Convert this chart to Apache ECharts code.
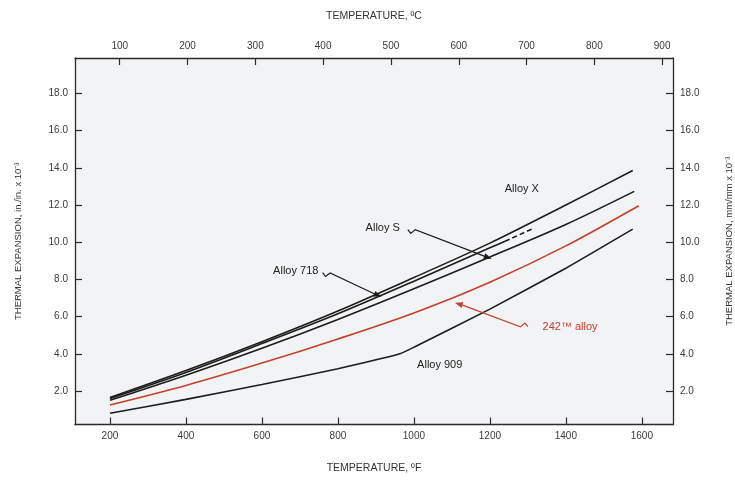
<!DOCTYPE html>
<html><head><meta charset="utf-8">
<script src="https://cdn.jsdelivr.net/npm/echarts@6/dist/echarts.min.js"></script>
<style>html,body{margin:0;padding:0;background:#fff}#c{width:735px;height:481px}</style>
</head><body><div id="c"></div>
<script>
// ---- data ----
const ticksF = [200, 400, 600, 800, 1000, 1200, 1400, 1600];
const ticksC = [100, 200, 300, 400, 500, 600, 700, 800, 900];
const ticksY = [2, 4, 6, 8, 10, 12, 14, 16, 18];

const alloyX_T = [200, 400, 600, 800, 1000, 1200, 1400, 1576];
const alloyX_V = [1.65, 3.1, 4.65, 6.3, 8.1, 9.95, 12.0, 13.85];

const alloyS_T = [200, 400, 600, 800, 1000, 1200, 1240];
const alloyS_V = [1.6, 3.0, 4.55, 6.15, 7.9, 9.7, 10.05];
const alloySdash_T = [1240, 1310];
const alloySdash_V = [10.05, 10.7];

const alloy718_T = [200, 400, 600, 800, 1000, 1200, 1400, 1580];
const alloy718_V = [1.5, 2.85, 4.3, 5.85, 7.5, 9.2, 10.95, 12.73];

const alloy242_T = [200, 400, 600, 800, 1000, 1200, 1400, 1592];
const alloy242_V = [1.25, 2.3, 3.5, 4.8, 6.2, 7.85, 9.8, 11.96];

const alloy909_T = [200, 400, 600, 800, 963, 1000, 1200, 1400, 1576];
const alloy909_V = [0.8, 1.55, 2.35, 3.2, 4.0, 4.35, 6.4, 8.6, 10.7];

const labelNames = ['Alloy X', 'Alloy S', 'Alloy 718', '242\u2122 alloy', 'Alloy 909'];
const labelAt = [[1284, 12.87], [918, 10.78], [689, 8.47], [1411, 5.46], [1068, 3.42]];
// leaders: [start, tip] in data units
const leaderS = [[984, 10.67], [1205, 9.11]];
const leader718 = [[760, 8.36], [915, 7.07]];
const leader242 = [[1300, 5.46], [1108, 6.75]];

// ---- chart ----
const pairs = (xs, ys) => xs.map((x, i) => [x, ys[i]]);
const BLACK = '#1c1c1c', RED = '#c4402f', FONT = 'Liberation Sans';
const chart = echarts.init(document.getElementById('c'), null, {renderer: 'canvas'});

const axLine = {show: true, lineStyle: {color: '#2a2a2a', width: 1.3}};
const tick = (vals) => ({show: true, inside: true, length: 7, customValues: vals, lineStyle: {color: '#2a2a2a', width: 1.2}});
const lab = (vals, fmt) => ({show: true, customValues: vals, formatter: fmt, color: '#3a3a3a', fontSize: 10, fontFamily: FONT, margin: 7});
const nameStyle = {color: '#333', fontSize: 10.5, fontFamily: FONT};

const line = (name, data, color, dashed) => ({
  name, type: 'line', data, showSymbol: false, smooth: 0.3, xAxisIndex: 0, yAxisIndex: 0,
  lineStyle: {color, width: 1.6, type: dashed ? [5, 3] : 'solid'}, animation: false, z: 3
});

chart.setOption({
  animation: false,
  backgroundColor: '#ffffff',
  grid: {left: 75, right: 62, top: 58, bottom: 56.5, show: true, backgroundColor: '#f2f3f5', borderWidth: 0,
         containLabel: false, outerBoundsMode: 'none'},
  xAxis: [
    {type: 'value', position: 'bottom', min: 108, max: 1682, axisLine: axLine, axisTick: tick(ticksF),
     axisLabel: lab(ticksF, v => String(v)), splitLine: {show: false},
     name: 'TEMPERATURE, \u00BAF', nameLocation: 'middle', nameGap: 38, nameTextStyle: nameStyle},
    {type: 'value', position: 'top', min: 34, max: 916, axisLine: axLine, axisTick: tick(ticksC),
     axisLabel: lab(ticksC, v => String(v)), splitLine: {show: false},
     name: 'TEMPERATURE, \u00BAC', nameLocation: 'middle', nameGap: 36, nameTextStyle: nameStyle}
  ],
  yAxis: [
    {type: 'value', position: 'left', min: 0.2, max: 19.9, axisLine: axLine, axisTick: tick(ticksY),
     axisLabel: lab(ticksY, v => v.toFixed(1)), splitLine: {show: false},
     name: 'THERMAL EXPANSION, in./in. x 10\u207B\u00B3', nameLocation: 'middle', nameGap: 52, nameTextStyle: {color: '#333', fontSize: 9.5, fontFamily: FONT}},
    {type: 'value', position: 'right', min: 0.2, max: 19.9, axisLine: axLine, axisTick: tick(ticksY),
     axisLabel: lab(ticksY, v => v.toFixed(1)), splitLine: {show: false},
     name: 'THERMAL EXPANSION, mm/mm x 10\u207B\u00B3', nameLocation: 'middle', nameGap: 51, nameRotate: 90, nameTextStyle: {color: '#333', fontSize: 9.5, fontFamily: FONT}}
  ],
  series: [
    line('Alloy X', pairs(alloyX_T, alloyX_V), BLACK),
    line('Alloy S', pairs(alloyS_T, alloyS_V), BLACK),
    line('Alloy S (extrap.)', pairs(alloySdash_T, alloySdash_V), BLACK, true),
    line('Alloy 718', pairs(alloy718_T, alloy718_V), BLACK),
    line('242 alloy', pairs(alloy242_T, alloy242_V), RED),
    Object.assign(line('Alloy 909', pairs(alloy909_T, alloy909_V), BLACK), {smooth: 0.15})
  ]
});

// ---- annotations ----
const px = (p) => chart.convertToPixel({xAxisIndex: 0, yAxisIndex: 0}, p);
const els = [];
labelNames.forEach((t, i) => {
  const p = px(labelAt[i]);
  els.push({type: 'text', x: p[0], y: p[1], z: 10,
    style: {text: t, fill: i === 3 ? RED : '#222', font: '11px ' + FONT, textAlign: 'center', textVerticalAlign: 'middle'}});
});
function leader(pts, color) {
  const a = px(pts[0]), b = px(pts[1]);
  const dx = b[0] - a[0], dy = b[1] - a[1], L = Math.hypot(dx, dy), ux = dx / L, uy = dy / L;
  const nx = -uy, ny = ux;
  const w1 = [a[0] + ux * 4 + nx * 2.5, a[1] + uy * 4 + ny * 2.5];
  const w2 = [a[0] + ux * 7 - nx * 2.5, a[1] + uy * 7 - ny * 2.5];
  const base = [b[0] - ux * 8, b[1] - uy * 8];
  els.push({type: 'polyline', z: 10, shape: {points: [a, w1, w2, base]}, style: {stroke: color, lineWidth: 1.2, fill: null}});
  els.push({type: 'polygon', z: 10, shape: {points: [b, [base[0] + nx * 3, base[1] + ny * 3], [base[0] - nx * 3, base[1] - ny * 3]]}, style: {fill: color}});
}
leader(leaderS, BLACK);
leader(leader718, BLACK);
leader(leader242, RED);
chart.setOption({graphic: els});
</script></body></html>
